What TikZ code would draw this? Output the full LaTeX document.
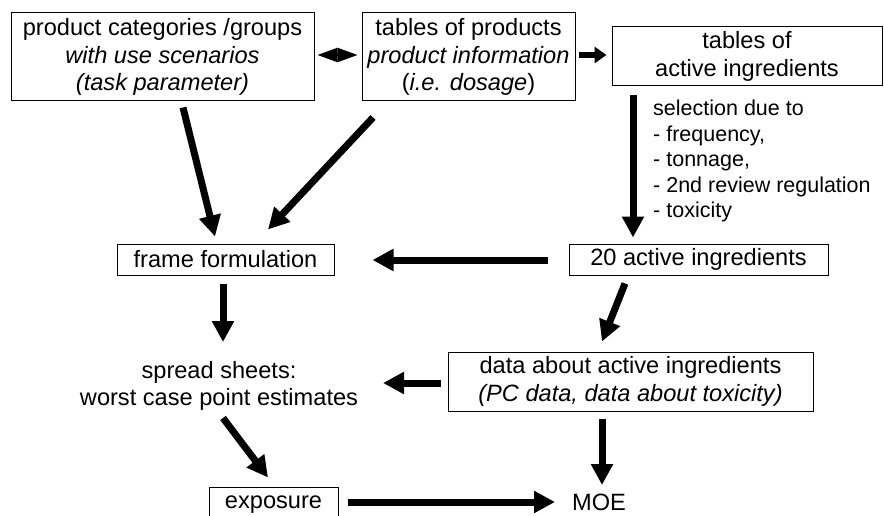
\documentclass[tikz,border=0pt]{standalone}
\usepackage{fontspec}
\setmainfont{Liberation Sans}
\usetikzlibrary{arrows.meta}
\begin{document}
\begin{tikzpicture}[x=1pt,y=-1pt,
  every node/.style={font=\fontsize{23.6}{27.5}\selectfont},
  box/.style={draw, line width=1pt, inner sep=0pt, align=center},
  arr/.style={line width=7pt, -{Triangle[length=21pt,width=21pt]}},
  smallarr/.style={line width=6pt, -{Triangle[length=12pt,width=16pt]}},
  dblarr/.style={line width=2pt, {Triangle[length=20pt,width=14pt]}-{Triangle[length=20pt,width=14pt]}},
]
\useasboundingbox (0,0) rectangle (884,516);

\node[box, minimum width=303pt, minimum height=88pt] (cat) at (162.5,57)
  {product categories /groups\\\textit{with use scenarios}\\\textit{(task parameter)}};
\node[box, minimum width=213pt, minimum height=88pt] (prod) at (468.5,57)
  {tables of products\\\textit{product information}\\(\textit{i.e. dosage})};
\node[box, minimum width=270pt, minimum height=59pt] (tabai) at (747,56.5)
  {tables of\\active ingredients};
\node[anchor=north west, align=left, inner sep=0pt, font=\fontsize{21.5}{25.5}\selectfont] (sel) at (653,100)
  {selection due to\\- frequency,\\- tonnage,\\- 2nd review regulation\\- toxicity};
\node[box, minimum width=217pt, minimum height=31pt] (frame) at (225.5,259.5) {frame formulation};
\node[box, minimum width=259pt, minimum height=31pt] (twenty) at (698.5,259.5) {20 active ingredients};
\node[box, minimum width=365pt, minimum height=59pt] (data) at (630.5,381.5)
  {data about active ingredients\\\textit{(PC data, data about toxicity)}};
\node[align=center] (spread) at (219,386) {spread sheets:\\worst case point estimates};
\node[box, minimum width=129pt, minimum height=36pt] (expo) at (273.5,505) {exposure};
\node (moe) at (599,502) {MOE};

\draw[dblarr] ([xshift=3pt,yshift=2pt]cat.east) -- ([xshift=-4pt,yshift=2pt]prod.west);
\draw[smallarr] ([xshift=3pt,yshift=2pt]prod.east) -- ([xshift=-5pt,yshift=1.5pt]tabai.west);
\draw[arr] ([xshift=20.5pt,yshift=-6pt]cat.south) -- ([xshift=-10.5pt,yshift=7pt]frame.north);
\draw[arr] ([xshift=-95.5pt,yshift=-16pt]prod.south) -- ([xshift=42.5pt,yshift=14pt]frame.north);
\draw[arr] ([xshift=-114pt,yshift=-9pt]tabai.south) -- ([xshift=-65.5pt,yshift=6pt]twenty.north);
\draw[arr] ([xshift=-21pt,yshift=-0.5pt]twenty.west) -- ([xshift=38pt,yshift=-0.5pt]frame.east);
\draw[arr] ([xshift=-2.5pt,yshift=-8pt]frame.south) -- ([xshift=4pt,yshift=44pt]spread.center);
\draw[arr] ([xshift=-73.5pt,yshift=-8pt]twenty.south) -- ([xshift=-28.5pt,yshift=10pt]data.north);
\draw[arr] ([xshift=-7pt,yshift=-1.5pt]data.west) -- ([xshift=164pt,yshift=3pt]spread.center);
\draw[arr] ([xshift=4pt,yshift=-32pt]spread.center) -- ([xshift=-5.5pt,yshift=9pt]expo.north);
\draw[arr] ([xshift=-28.5pt,yshift=-7pt]data.south) -- ([xshift=3pt,yshift=17pt]moe.center);
\draw[arr] ([xshift=9pt,yshift=3pt]expo.east) -- ([xshift=-44pt]moe.center);
\end{tikzpicture}
\end{document}
